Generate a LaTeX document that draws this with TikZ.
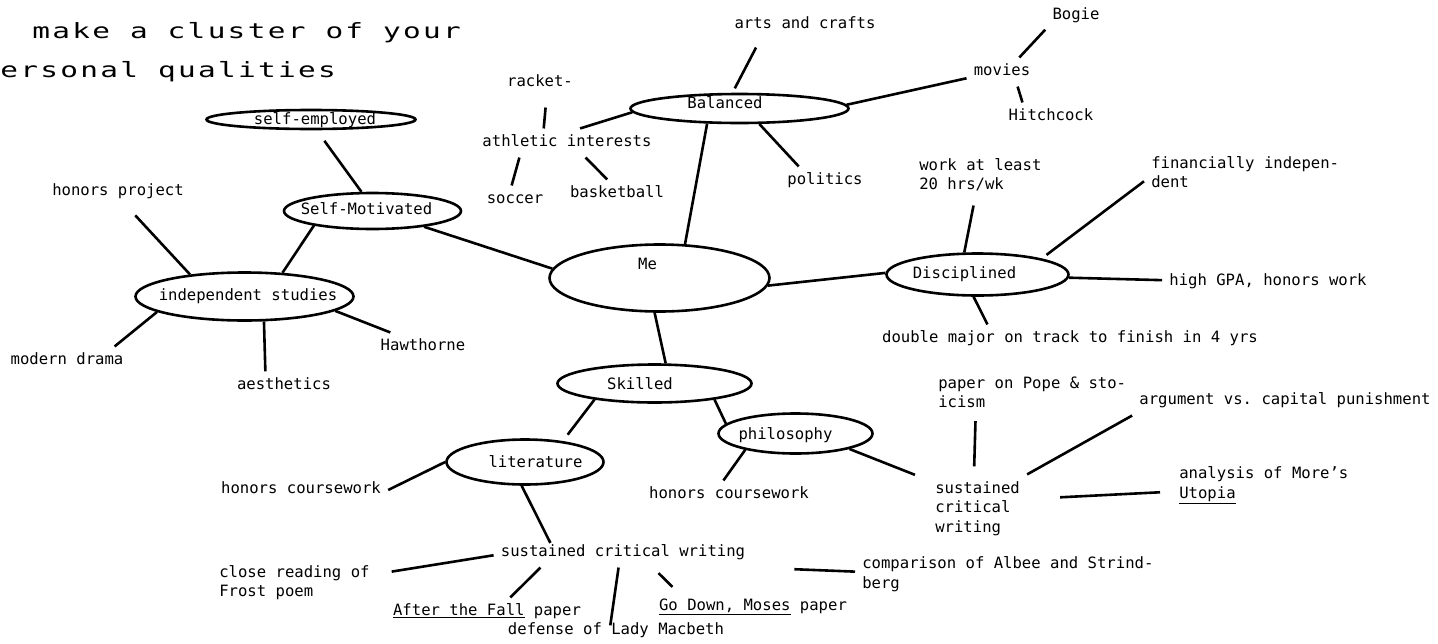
\documentclass[tikz,border=0pt]{standalone}
\usepackage{fontspec}
\setmainfont{DejaVu Sans Mono}
\newfontfamily\titlefont[FakeStretch=1.4,LetterSpace=11]{DejaVu Sans Mono}
\usetikzlibrary{shapes.geometric}
\newcommand{\nudge}[3]{\hspace*{#1}\raisebox{#2}{#3}}
\frenchspacing

\begin{document}
\begin{tikzpicture}[x=1pt,y=-1pt,line width=2.6pt,font=\fontsize{15.6pt}{19.3pt}\selectfont,bubble/.style={draw,ellipse,inner xsep=-20pt,inner ysep=-4pt,text height=11pt,text depth=3.5pt},leaf/.style={inner sep=6pt,text height=11pt,text depth=3.5pt},leafblock/.style={inner sep=6pt,align=left,anchor=north west},heading/.style={font=\titlefont\fontsize{21pt}{25pt}\selectfont,anchor=base west,inner sep=0pt}]
\useasboundingbox (0,0) rectangle (1438,643);
\node[heading] (title1) at (31,38.5) {make a cluster of your};
\node[heading] (title2) at (-1,77.3) {ersonal qualities};
\node[bubble,minimum width=209,minimum height=19] (semp) at (311,119.5) {\nudge{8pt}{-1pt}{self-employed}};
\node[bubble,minimum width=177,minimum height=36] (smot) at (372.5,211) {\nudge{-12pt}{0pt}{Self-Motivated}};
\node[bubble,minimum width=218,minimum height=48] (indep) at (244.5,296.5) {\nudge{7pt}{0pt}{independent studies}};
\node[bubble,minimum width=220,minimum height=67] (me) at (659.5,278) {\nudge{-24pt}{12pt}{Me}};
\node[bubble,minimum width=218,minimum height=29] (bal) at (739.5,108.5) {\nudge{-29pt}{3.5pt}{Balanced}};
\node[bubble,minimum width=182,minimum height=42] (disc) at (977.5,274.5) {\nudge{-26pt}{0pt}{Disciplined}};
\node[bubble,minimum width=194,minimum height=38] (skill) at (654.5,383.5) {\nudge{-29pt}{-2.5pt}{Skilled}};
\node[bubble,minimum width=154,minimum height=40] (phil) at (795.5,433.5) {\nudge{-20pt}{-2.5pt}{philosophy}};
\node[bubble,minimum width=157,minimum height=45] (lit) at (525,462) {\nudge{21pt}{-2pt}{literature}};
\node[leaf] (arts) at (805,25) {arts and crafts};
\node[leaf] (racket) at (540,83) {racket-};
\node[leaf] (athletic) at (567,143) {athletic interests};
\node[leaf] (soccer) at (515,200) {soccer};
\node[leaf] (basketball) at (617,194) {basketball};
\node[leaf] (politics) at (825,181) {politics};
\node[leaf] (movies) at (1002,72) {movies};
\node[leaf] (bogie) at (1076,16) {Bogie};
\node[leaf] (hitchcock) at (1051,117) {Hitchcock};
\node[leafblock] (work) at (912,151.4) {work at least\\20 hrs/wk};
\node[leafblock] (finance) at (1144,149.4) {financially indepen-\\dent};
\node[leaf] (gpa) at (1268,282) {high GPA, honors work};
\node[leaf] (major) at (1070,339) {double major on track to finish in 4 yrs};
\node[leaf] (project) at (118,192) {honors project};
\node[leaf] (drama) at (67,361) {modern drama};
\node[leaf] (aesthetics) at (284,386) {aesthetics};
\node[leaf] (hawthorne) at (423,347) {Hawthorne};
\node[leaf] (litcourse) at (301,490) {honors coursework};
\node[leaf] (phcourse) at (729,495) {honors coursework};
\node[leaf] (litwriting) at (623,553) {sustained critical writing};
\node[leafblock] (phwriting) at (928,474.4) {sustained\\critical\\writing};
\node[leafblock] (pope) at (931,369.4) {paper on Pope \& sto-\\icism};
\node[leaf] (capital) at (1285,401) {argument vs. capital punishment};
\node[leafblock] (utopia) at (1172,459.7) {analysis of More’s\\\underline{Utopia}};
\node[leafblock] (frost) at (212,558.1) {close reading of\\Frost poem};
\node[leaf] (fall) at (487,612) {\underline{After the Fall} paper};
\node[leaf] (macbeth) at (616,631) {defense of Lady Macbeth};
\node[leaf] (moses) at (753,607) {\underline{Go Down, Moses} paper};
\node[leafblock] (albee) at (855,549.7) {comparison of Albee and Strind-\\berg};
% self-motivated branch
\draw[shorten <=13pt] (semp.-62) -- (smot.120);
\draw (smot.194) -- (indep.32);
\draw[shorten <=12pt] (project.-58) -- (indep.158);
\draw (smot.-17) -- (me.175);
\draw (indep.190) -- (drama.17);
\draw (indep.-52) -- (aesthetics.142);
\draw (indep.-9) -- (hawthorne.156);
% balanced branch
\draw[shorten <=5pt,shorten >=9pt] (bal.114) -- (arts.198);
\draw (bal.182) -- (athletic.48);
\draw[shorten <=10pt] (racket.-66) -- (athletic.148);
\draw (athletic.197) -- (soccer.103);
\draw (athletic.-38) -- (basketball.124);
\draw (bal.-38) -- (politics.151);
\draw (bal.205) -- (me.53);
\draw (bal.2) -- (movies.190);
\draw (movies.40) -- (bogie.204);
\draw (movies.-43) -- (hitchcock.153);
% disciplined branch
\draw (me.-4) -- (disc.179);
\draw[shorten >=7pt] (disc.121) -- (work.-103);
\draw[shorten <=6pt] (disc.14) -- (finance.185);
\draw (disc.-2) -- (gpa.179);
\draw (disc.260) -- (major.170.5);
% skilled branch
\draw (me.262) -- (skill.61);
\draw[shorten >=8pt] (skill.195) -- (lit.29);
\draw (skill.-15) -- (phil.172);
\draw (lit.180) -- (litcourse.east);
\draw[shorten >=-5pt] (lit.262) -- (litwriting.169);
\draw (phil.198) -- (phcourse.111);
\draw[shorten >=14pt] (phil.-16) -- (phwriting.150);
\draw[shorten <=8pt,shorten >=6pt] (phwriting.96) -- (pope.202);
\draw (phwriting.north east) -- (capital.south west);
\draw[shorten <=33pt,shorten >=12pt] (phwriting.11) -- (utopia.184);
\draw[shorten >=15pt] (litwriting.181) -- (frost.6);
\draw (litwriting.190) -- (fall.32);
\draw[shorten >=-9pt] (litwriting.253) -- (macbeth.107);
\draw[shorten <=8pt,shorten >=8pt] (litwriting.-26) -- (moses.169.5);
\draw[shorten <=42pt] (litwriting.south east) -- (albee.179);
\end{tikzpicture}
\end{document}
